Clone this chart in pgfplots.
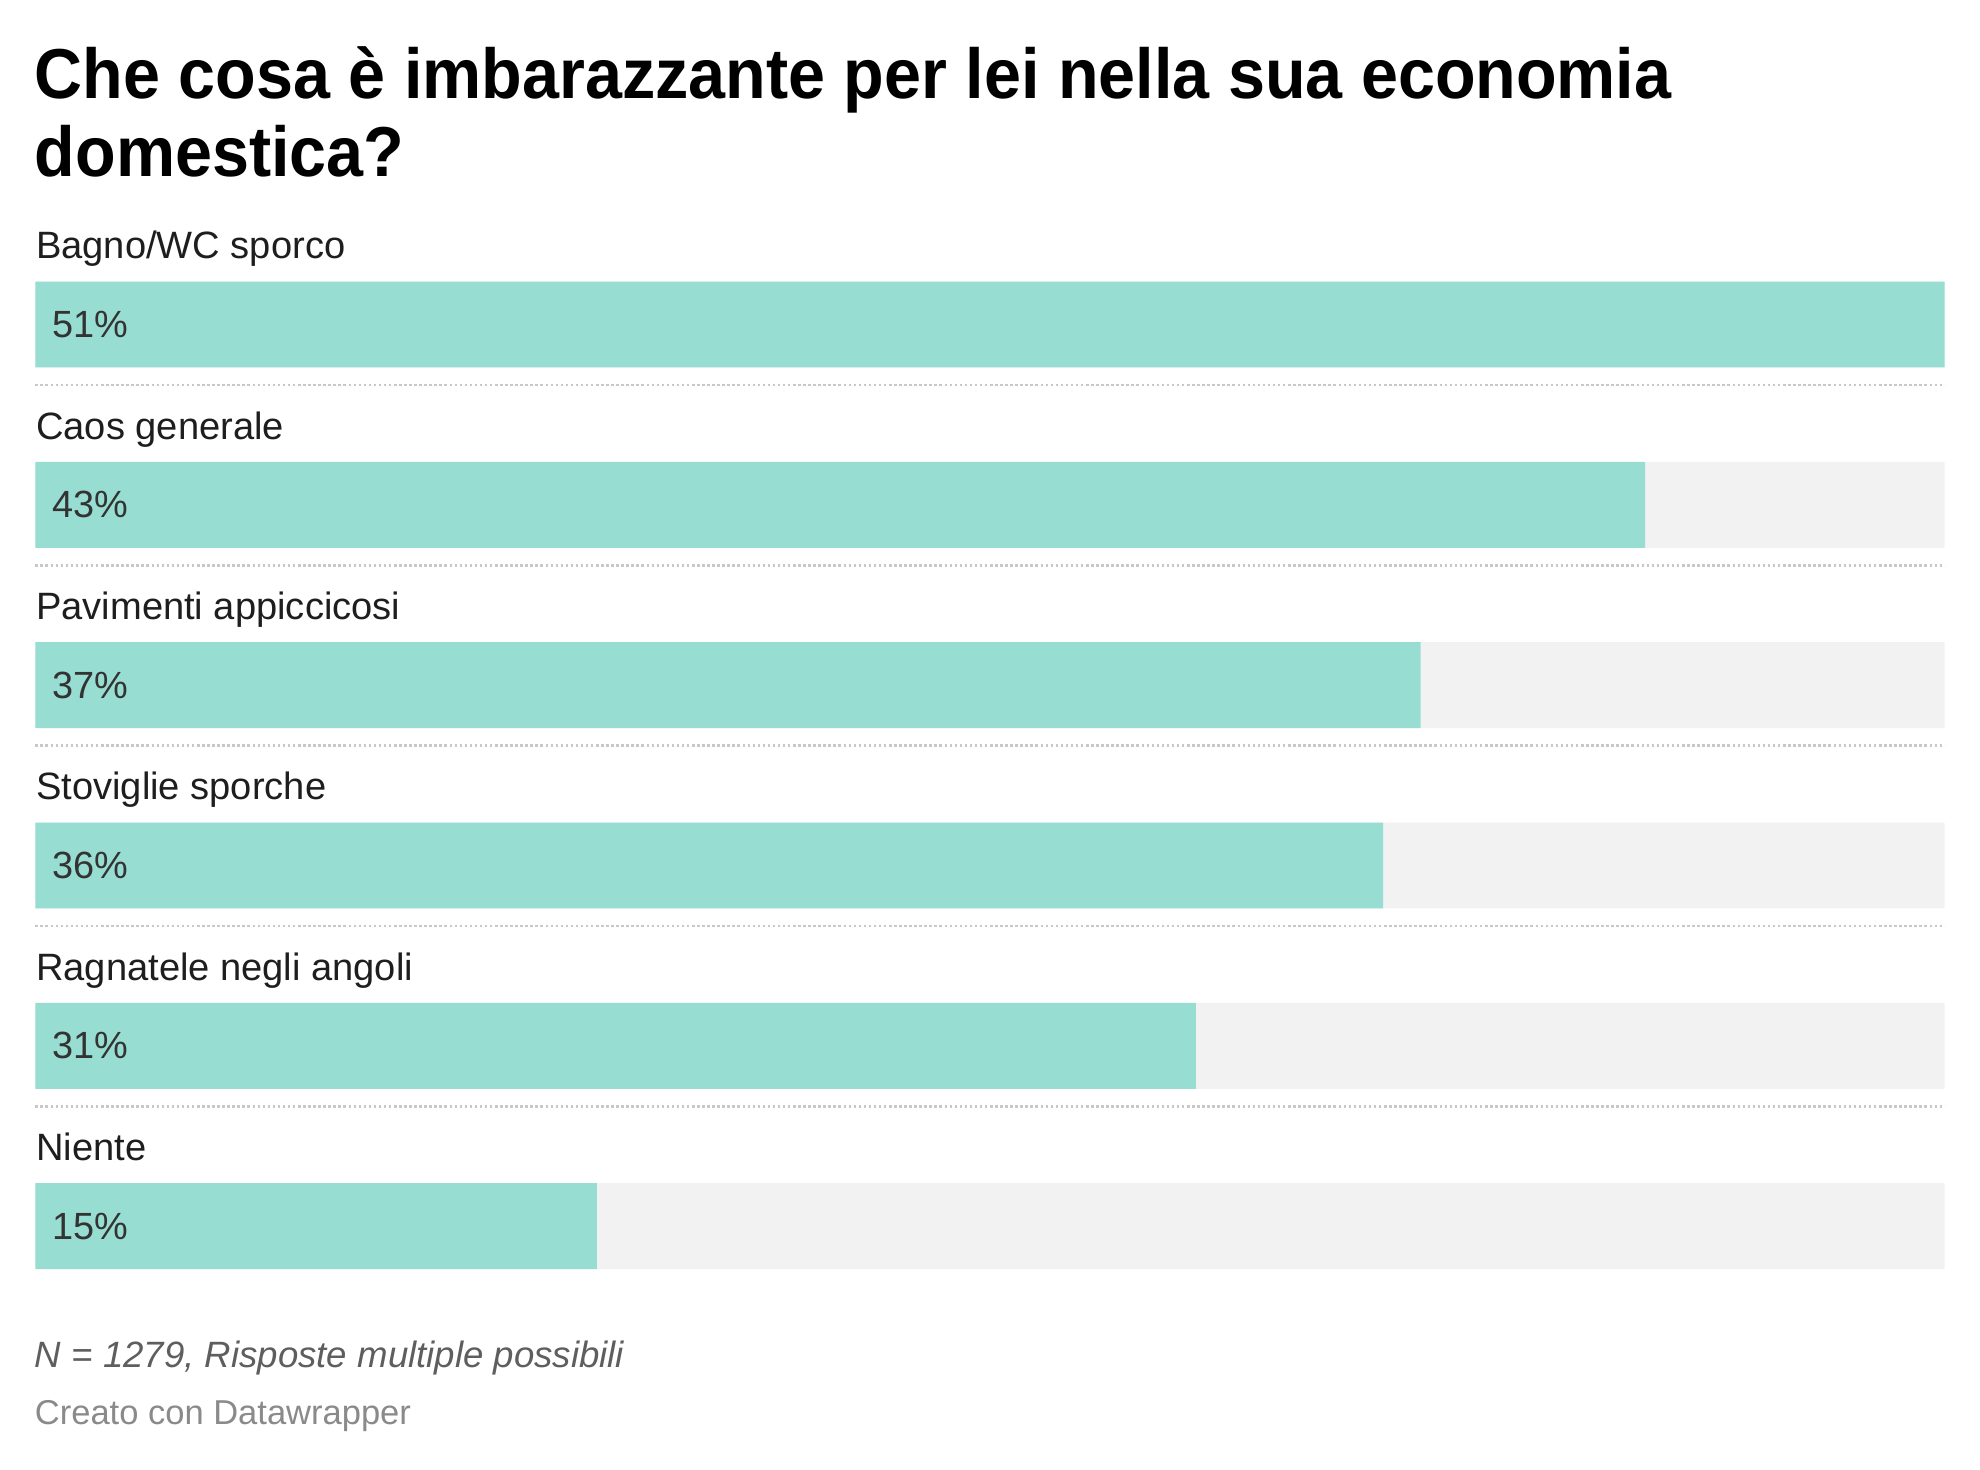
\documentclass[border=0pt]{standalone}
\usepackage{pgfplots}
\pgfplotsset{compat=1.18}
\usepackage{pgfplotstable}
\usepackage{fontspec}
\setmainfont{Liberation Sans}
\newfontfamily\titlefont[FakeStretch=0.94]{Liberation Sans Bold}

\definecolor{teal}{HTML}{98DDD2}
\definecolor{bggray}{HTML}{F2F2F2}
\definecolor{dotgray}{HTML}{C8C8C8}
\definecolor{labelcol}{HTML}{1E1E1E}
\definecolor{valcol}{HTML}{333333}
\definecolor{notecol}{HTML}{5E5E5E}
\definecolor{credcol}{HTML}{8A8A8A}

% y = row position (0 at top), val = percentage, full = scale maximum
\pgfplotstableread{
y val full
0 51 51
1 43 51
2 37 51
3 36 51
4 31 51
5 15 51
}\answers

\begin{document}
\begin{tikzpicture}
\begin{axis}[
  name=ax,
  scale only axis,
  width=453.6pt, height=234.6pt,
  xmin=0, xmax=51,
  ymin=-0.238, ymax=5.238,
  y dir=reverse,
  axis line style={draw=none},
  tick style={draw=none},
  xtick=\empty,
  ytick={0,...,5},
  yticklabels={Bagno/WC sporco, Caos generale, Pavimenti appiccicosi,
               Stoviglie sporche, Ragnatele negli angoli, Niente},
  yticklabel style={anchor=base west, inner sep=0pt, yshift=15.6pt,
                    font=\fontsize{9.05}{11}\selectfont, text=labelcol},
  bar width=20.4pt,
  clip=false,
  /pgf/number format/assume math mode=true,
]
% grey track behind each bar
\addplot[xbar, bar shift=0pt, fill=bggray, draw=none] table[x=full, y=y] {\answers};
% the answers
\addplot[xbar, bar shift=0pt, fill=teal, draw=none] table[x=val, y=y] {\answers};
% value labels at the start of each bar
\addplot[draw=none, mark=none, point meta={\thisrow{val}},
  nodes near coords={\pgfmathprintnumber[assume math mode=true]{\pgfplotspointmeta}\%},
  every node near coord/.style={anchor=west, inner sep=0pt, xshift=3.9pt,
    font=\fontsize{9}{11}\selectfont, text=valcol}]
  table[x expr=0, y=y] {\answers};
% dotted separators
\foreach \s in {0.336,1.336,2.336,3.336,4.336} {
  \edef\tmp{\noexpand\addplot[draw=dotgray, line width=0.6pt,
    dash pattern=on 0.6pt off 0.6pt] coordinates {(0,\s) (51,\s)};}
  \tmp
}
\end{axis}

% title and notes
\node[anchor=base west, inner sep=0pt, text=black]
  at ([xshift=-0.3pt, yshift=43.5pt]ax.north west)
  {\titlefont\fontsize{16.8}{20}\selectfont Che cosa è imbarazzante per lei nella sua economia};
\node[anchor=base west, inner sep=0pt, text=black]
  at ([xshift=-0.3pt, yshift=24.9pt]ax.north west)
  {\titlefont\fontsize{16.8}{20}\selectfont domestica?};
\node[anchor=base west, inner sep=0pt, text=notecol]
  at ([xshift=-0.3pt, yshift=-23.4pt]ax.south west)
  {\fontsize{8.7}{11}\selectfont\itshape N = 1279, Risposte multiple possibili};
\node[anchor=base west, inner sep=0pt, text=credcol]
  at ([xshift=-0.3pt, yshift=-36.9pt]ax.south west)
  {\fontsize{8.2}{10}\selectfont Creato con Datawrapper};

\pgfresetboundingbox
\path[use as bounding box] ([xshift=-8.4pt, yshift=-47.7pt]ax.south west)
  rectangle ([xshift=8.4pt, yshift=66.9pt]ax.north east);
\end{tikzpicture}
\end{document}
